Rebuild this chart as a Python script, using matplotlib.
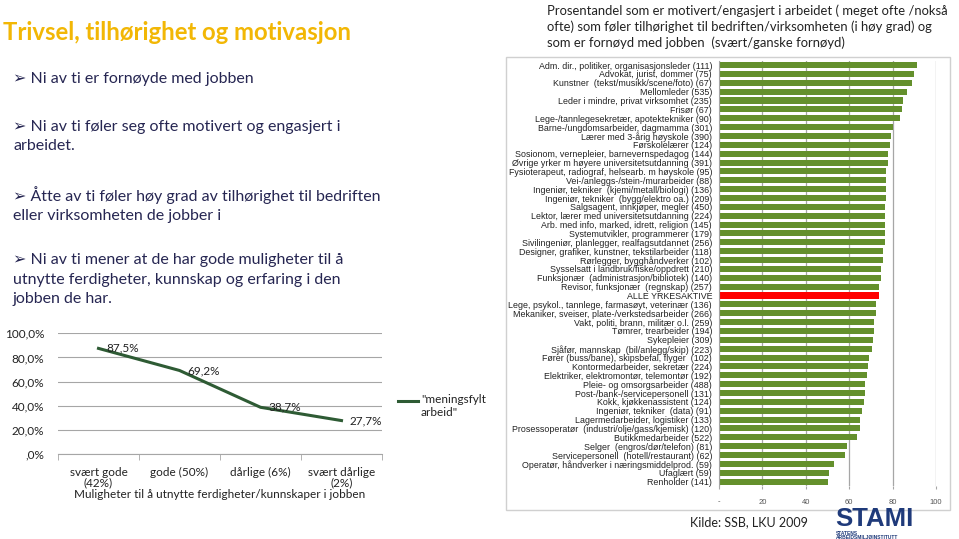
import matplotlib.pyplot as plt
from matplotlib.patches import Rectangle
from matplotlib.lines import Line2D

W, H = 959, 539

# --- data ---
title = "Trivsel, tilhørighet og motivasjon"
bullets = [
    "Ni av ti er fornøyde med jobben",
    "Ni av ti føler seg ofte motivert og engasjert i\narbeidet.",
    "Åtte av ti føler høy grad av tilhørighet til bedriften\neller virksomheten de jobber i",
    "Ni av ti mener at de har gode muligheter til å\nutnytte ferdigheter, kunnskap og erfaring i den\njobben de har.",
]
header = ("Prosentandel som er motivert/engasjert i arbeidet ( meget ofte /nokså\n"
          "ofte) som føler tilhørighet til bedriften/virksomheten (i høy grad) og\n"
          "som er fornøyd med jobben  (svært/ganske fornøyd)")

line_cats = ["svært gode\n(42%)", "gode (50%)", "dårlige (6%)", "svært dårlige\n(2%)"]
line_vals = [87.5, 69.2, 38.7, 27.7]
line_labels = ["87,5%", "69,2%", "38,7%", "27,7%"]
line_yticks = [0, 20, 40, 60, 80, 100]
line_yticklabels = [",0%", "20,0%", "40,0%", "60,0%", "80,0%", "100,0%"]

occupations = [
    "Adm. dir., politiker, organisasjonsleder (111)",
    "Advokat, jurist, dommer (75)",
    "Kunstner  (tekst/musikk/scene/foto) (67)",
    "Mellomleder (535)",
    "Leder i mindre, privat virksomhet (235)",
    "Frisør (67)",
    "Lege-/tannlegesekretær, apotektekniker (90)",
    "Barne-/ungdomsarbeider, dagmamma (301)",
    "Lærer med 3-årig høyskole (390)",
    "Førskolelærer (124)",
    "Sosionom, vernepleier, barnevernspedagog (144)",
    "Øvrige yrker m høyere universitetsutdanning (391)",
    "Fysioterapeut, radiograf, helsearb. m høyskole (95)",
    "Vei-/anleggs-/stein-/murarbeider (88)",
    "Ingeniør, tekniker  (kjemi/metall/biologi) (136)",
    "Ingeniør, tekniker  (bygg/elektro oa.) (209)",
    "Salgsagent, innkjøper, megler (450)",
    "Lektor, lærer med universitetsutdanning (224)",
    "Arb. med info, marked, idrett, religion (145)",
    "Systemutvikler, programmerer (179)",
    "Sivilingeniør, planlegger, realfagsutdannet (256)",
    "Designer, grafiker, kunstner, tekstilarbeider (118)",
    "Rørlegger, bygghåndverker (102)",
    "Sysselsatt i landbruk/fiske/oppdrett (210)",
    "Funksjonær  (administrasjon/bibliotek) (140)",
    "Revisor, funksjonær  (regnskap) (257)",
    "ALLE YRKESAKTIVE",
    "Lege, psykol., tannlege, farmasøyt, veterinær (136)",
    "Mekaniker, sveiser, plate-/verkstedsarbeider (266)",
    "Vakt, politi, brann, militær o.l. (259)",
    "Tømrer, trearbeider (194)",
    "Sykepleier (309)",
    "Sjåfør, mannskap  (bil/anlegg/skip) (223)",
    "Fører (buss/bane), skipsbefal, flyger  (102)",
    "Kontormedarbeider, sekretær (224)",
    "Elektriker, elektromontør, telemontør (192)",
    "Pleie- og omsorgsarbeider (488)",
    "Post-/bank-/servicepersonell (131)",
    "Kokk, kjøkkenassistent (124)",
    "Ingeniør, tekniker  (data) (91)",
    "Lagermedarbeider, logistiker (133)",
    "Prosessoperatør  (industri/olje/gass/kjemisk) (120)",
    "Butikkmedarbeider (522)",
    "Selger  (engros/dør/telefon) (81)",
    "Servicepersonell  (hotell/restaurant) (62)",
    "Operatør, håndverker i næringsmiddelprod. (59)",
    "Ufaglært (59)",
    "Renholder (141)",
]
shares = [91.1, 89.9, 89.1, 86.6, 84.7, 84.5, 83.6, 80.3, 79.3, 78.7,
          78.0, 78.0, 77.1, 76.9, 76.8, 77.0, 76.5, 76.7, 76.3, 76.3,
          76.3, 75.7, 75.6, 74.5, 74.5, 73.7, 73.8, 72.5, 72.5, 71.6,
          71.3, 70.8, 70.5, 69.3, 68.5, 68.0, 67.3, 67.3, 67.0, 66.0,
          65.1, 64.8, 63.6, 58.8, 58.2, 53.2, 50.6, 50.0]
bar_xticks = [0, 20, 40, 60, 80, 100]
bar_xticklabels = ["-", "20", "40", "60", "80", "100"]


def fx(x):
    return x / W


def fy(y):
    return 1 - y / H


navy = "#262652"
sans = ["Lato", "DejaVu Sans"]

fig = plt.figure(figsize=(W / 100, H / 100), dpi=100)

# title and bullets
fig.text(fx(3), fy(33), title, color="#F2B705", fontsize=17.2, fontweight="bold",
         family=sans, va="center", ha="left")
bullet_y = [78, 126, 192, 259]
for b, y in zip(bullets, bullet_y):
    fig.text(fx(13), fy(y - 6), "➢ " + b, color=navy, fontsize=11.5, family=sans,
             va="top", ha="left", linespacing=1.5)

# header text top right
fig.text(fx(547), fy(4), header, color="#222222", fontsize=9.4, family=sans,
         va="top", ha="left", linespacing=1.35)

# --- line chart ---
ax = fig.add_axes([fx(58), fy(454), fx(382) - fx(58), fy(333.3) - fy(454)])
xs = list(range(len(line_vals)))
ax.plot(xs, line_vals, color="#2E5B34", lw=2.2)
for x, v, lab in zip(xs, line_vals, line_labels):
    ax.annotate(lab, (x, v), xytext=(6, 0), textcoords="offset points",
                va="center", ha="left", fontsize=8.5, family=sans, color="#222222")
ax.set_xlim(-0.5, 3.5)
ax.set_ylim(0, 100)
ax.set_yticks(line_yticks)
ax.set_yticklabels(line_yticklabels, family=sans, fontsize=8.5, color="#222222")
ax.set_xticks(xs)
ax.set_xticklabels(line_cats, family=sans, fontsize=8.5, color="#222222", linespacing=1.0)
ax.set_xticks([-0.5, 0.5, 1.5, 2.5, 3.5], minor=True)
ax.tick_params(axis="x", which="major", length=0, pad=9)
ax.tick_params(axis="x", which="minor", length=4, color="#A6A6A6")
ax.tick_params(axis="y", length=0, pad=10)
ax.grid(axis="y", color="#A6A6A6", lw=0.8)
ax.set_axisbelow(True)
for s in ["top", "right", "left"]:
    ax.spines[s].set_visible(False)
ax.spines["bottom"].set_color("#A6A6A6")
ax.set_xlabel("Muligheter til å utnytte ferdigheter/kunnskaper i jobben",
              family=sans, fontsize=8.5, color="#222222", labelpad=0)
ax.patch.set_alpha(0)

# legend for line chart
fig.add_artist(Line2D([fx(398), fx(418)], [fy(401), fy(401)], color="#2E5B34", lw=2.2))
fig.text(fx(421), fy(406), '"meningsfylt\narbeid"', family=sans, fontsize=8.5,
         color="#222222", va="center", ha="left", linespacing=1.3)

# --- bar chart ---
fig.add_artist(Rectangle((fx(506), fy(510)), fx(950) - fx(506), fy(57) - fy(510),
                         transform=fig.transFigure, fill=False, edgecolor="#D0D0D0", lw=1))
bx = fig.add_axes([fx(719), fy(486.1), fx(936) - fx(719), fy(60.6) - fy(486.1)])
colors = ["#FF0000" if o == "ALLE YRKESAKTIVE" else "#64902C" for o in occupations]
ys = list(range(len(shares)))
bx.barh(ys, shares, height=0.68, color=colors)
bx.set_ylim(len(shares) - 0.5, -0.5)
bx.set_xlim(0, 100)
bx.set_yticks(ys)
bx.set_yticklabels(occupations, family=["Liberation Sans"], fontsize=6.4, color="#222222")
bx.set_xticks(bar_xticks)
bx.set_xticklabels(bar_xticklabels, family=["Liberation Sans"], fontsize=5.5, color="#555555")
bx.tick_params(axis="y", length=0, pad=5)
bx.tick_params(axis="x", length=2, color="#A6A6A6", pad=7)
bx.grid(axis="x", color="#A6A6A6", lw=0.9)
bx.set_axisbelow(True)
for s in ["top", "right", "bottom"]:
    bx.spines[s].set_visible(False)
bx.spines["left"].set_color("#A6A6A6")

# source and logo
fig.text(fx(690), fy(522), "Kilde: SSB, LKU 2009", family=sans, fontsize=9,
         color="#222222", va="center", ha="left")
fig.text(fx(835), fy(526.5), "STAMI", family=["Liberation Sans"], fontsize=18.5,
         fontweight="bold", color="#1F3A7A", va="baseline", ha="left")
fig.text(fx(836), fy(533.5), "STATENS", family=["Liberation Sans"], fontsize=3.5,
         fontweight="bold", color="#1F3A7A", va="center", ha="left")
fig.text(fx(836), fy(537.5), "ARBEIDSMILJØINSTITUTT", family=["Liberation Sans"], fontsize=3.5,
         fontweight="bold", color="#1F3A7A", va="center", ha="left")

fig.savefig("out.png", dpi=100)
